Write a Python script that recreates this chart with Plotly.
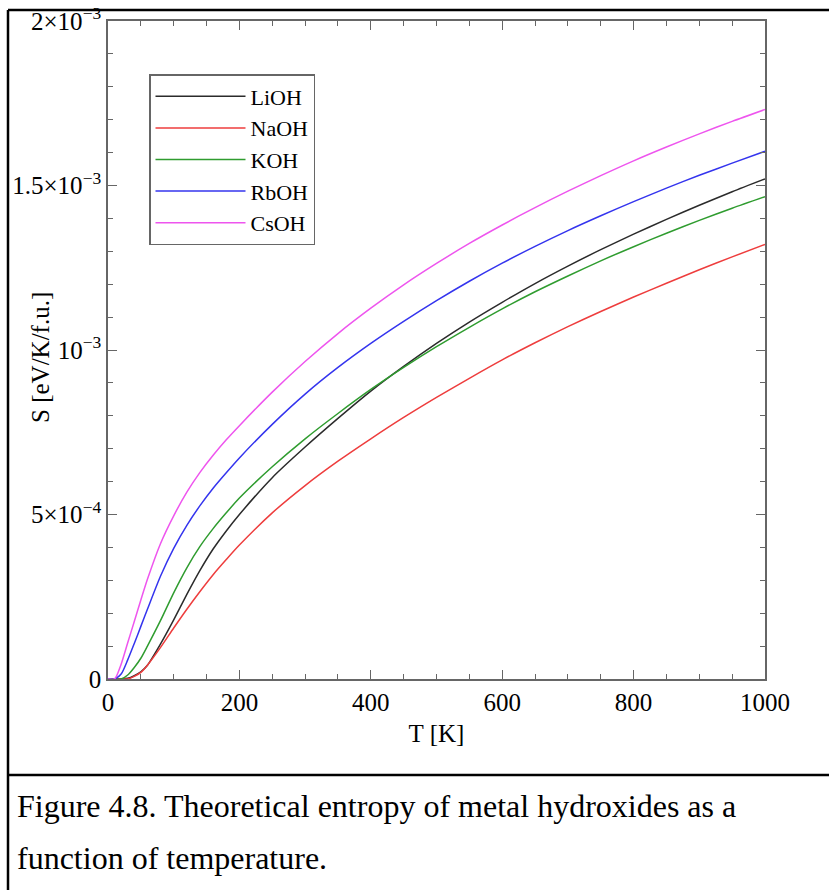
import plotly.graph_objects as go

# Temperature grid (K)
T = [0, 10, 20, 30, 40, 50, 60, 80, 100, 120, 140, 160, 180, 200,
     250, 300, 350, 400, 450, 500, 550, 600, 650, 700, 750, 800, 850, 900,
     950, 1000]

# Entropy values in units of 1e-4 eV/K/f.u.
LiOH = [0, 0, 0, 0.02, 0.1, 0.22, 0.42, 1.07, 1.8, 2.57, 3.3, 3.95, 4.5,
        5.0, 6.12, 7.05, 7.92, 8.75, 9.5, 10.2, 10.85, 11.45, 12.02, 12.55,
        13.05, 13.52, 13.97, 14.4, 14.81, 15.2]
NaOH = [0, 0, 0, 0, 0.08, 0.2, 0.42, 0.96, 1.55, 2.12, 2.66, 3.17, 3.63,
        4.07, 5.05, 5.88, 6.62, 7.3, 7.95, 8.56, 9.14, 9.7, 10.22, 10.71,
        11.17, 11.61, 12.03, 12.44, 12.83, 13.21]
KOH = [0, 0, 0, 0.12, 0.35, 0.63, 1.0, 1.78, 2.62, 3.38, 4.03, 4.57, 5.05,
       5.5, 6.45, 7.3, 8.07, 8.8, 9.47, 10.1, 10.69, 11.25, 11.77, 12.25,
       12.71, 13.14, 13.55, 13.94, 14.31, 14.66]
RbOH = [0, 0, 0.15, 0.58, 1.08, 1.6, 2.12, 3.13, 3.97, 4.67, 5.27, 5.8, 6.27,
        6.72, 7.74, 8.66, 9.47, 10.2, 10.87, 11.5, 12.09, 12.64, 13.15, 13.63,
        14.08, 14.51, 14.92, 15.31, 15.68, 16.04]
CsOH = [0, 0, 0.45, 1.1, 1.75, 2.4, 3.03, 4.12, 4.96, 5.68, 6.28, 6.8, 7.27,
        7.7, 8.72, 9.65, 10.5, 11.27, 11.98, 12.63, 13.24, 13.8, 14.33, 14.83,
        15.3, 15.75, 16.17, 16.57, 16.95, 17.31]

series_names = ["LiOH", "NaOH", "KOH", "RbOH", "CsOH"]
series_values = [LiOH, NaOH, KOH, RbOH, CsOH]
series_colors = ["#2b2b2b", "#ee3d3d", "#2f9c2f", "#3434ee", "#ee55ee"]

x_tickvals = [0, 200, 400, 600, 800, 1000]
x_ticktext = ["0", "200", "400", "600", "800", "1000"]
y_tickvals = [0, 5, 10, 15, 20]
y_ticktext = ["0", "5×10<sup>−4</sup>", "10<sup>−3</sup>",
              "1.5×10<sup>−3</sup>", "2×10<sup>−3</sup>"]

FONT = "Liberation Serif, Times New Roman, serif"
AX = "#666666"

fig = go.Figure()
for name, vals, col in zip(series_names, series_values, series_colors):
    fig.add_trace(go.Scatter(x=T, y=vals, name=name, mode="lines",
                             line=dict(color=col, width=1.5, shape="spline",
                                       smoothing=0.7)))

axis_common = dict(showline=True, linecolor=AX, linewidth=1.5, mirror="ticks",
                   ticks="inside", ticklen=9, tickwidth=1.3, tickcolor=AX,
                   showgrid=False, zeroline=False, automargin=False,
                   tickfont=dict(size=25, family=FONT, color="black"))

fig.update_xaxes(range=[0, 1000], tickmode="array", tickvals=x_tickvals,
                 ticktext=x_ticktext,
                 minor=dict(dtick=50, ticks="inside", ticklen=5, tickcolor=AX,
                            tickwidth=1.2, showgrid=False),
                 title=dict(text="T [K]", font=dict(size=25, family=FONT),
                            standoff=10),
                 **axis_common)
fig.update_yaxes(range=[0, 20], tickmode="array", tickvals=y_tickvals,
                 ticktext=y_ticktext,
                 minor=dict(dtick=1, ticks="inside", ticklen=5, tickcolor=AX,
                            tickwidth=1.2, showgrid=False),
                 **axis_common)

# pixel -> paper helpers for decorations (plot area 108..765 x 21..679)
L, R, TOP, B, W, H = 108, 64, 21, 211, 829, 890
PW, PH = W - L - R, H - TOP - B
def px(x):
    return (x - L) / PW
def py(y):
    return (H - B - y) / PH

shapes = [
    dict(type="line", xref="paper", yref="paper", x0=px(8), x1=px(829),
         y0=py(10), y1=py(10), line=dict(color="black", width=2.5)),
    dict(type="line", xref="paper", yref="paper", x0=px(8), x1=px(8),
         y0=py(10), y1=py(890), line=dict(color="black", width=2.5)),
    dict(type="line", xref="paper", yref="paper", x0=px(8), x1=px(829),
         y0=py(775), y1=py(775), line=dict(color="black", width=2.5)),
]

annotations = [
    dict(text="S [eV/K/f.u.]", xref="paper", yref="paper", x=px(40), y=py(358),
         textangle=-90, showarrow=False, xanchor="center", yanchor="middle",
         font=dict(size=25, family=FONT, color="black")),
    dict(text="Figure 4.8. Theoretical entropy of metal hydroxides as a",
         xref="paper", yref="paper", x=px(15), y=py(806), showarrow=False,
         xanchor="left", yanchor="middle",
         font=dict(size=32, family=FONT, color="black")),
    dict(text="function of temperature.",
         xref="paper", yref="paper", x=px(15), y=py(858), showarrow=False,
         xanchor="left", yanchor="middle",
         font=dict(size=32, family=FONT, color="black")),
]

fig.update_layout(
    width=W, height=H,
    margin=dict(l=L, r=R, t=TOP, b=B, pad=0, autoexpand=False),
    paper_bgcolor="white", plot_bgcolor="white",
    font=dict(family=FONT, color="black"),
    showlegend=True,
    legend=dict(x=px(149), y=py(74), xanchor="left", yanchor="top",
                bgcolor="white", bordercolor=AX, borderwidth=1.5,
                font=dict(size=22, family=FONT, color="black"),
                itemwidth=90, tracegroupgap=0),
    shapes=shapes,
    annotations=annotations,
)

fig.write_html("out.html", config={"displayModeBar": False},
               post_script="document.body.style.margin='0';")
